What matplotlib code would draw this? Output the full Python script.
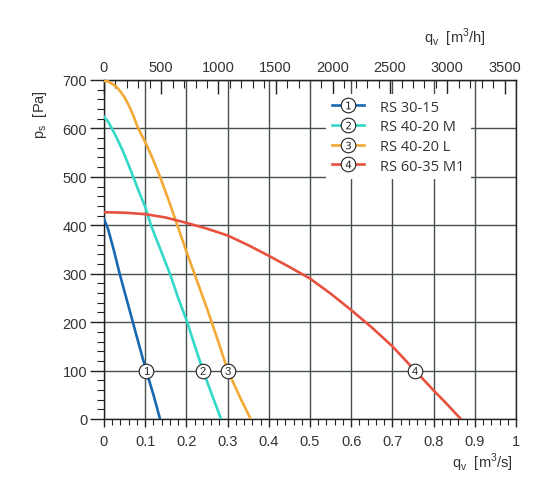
import matplotlib
matplotlib.use("Agg")
import matplotlib.pyplot as plt
from matplotlib.lines import Line2D
from matplotlib.ticker import MultipleLocator, FixedLocator
from matplotlib.legend_handler import HandlerTuple

# fan curves: q_v [m3/s] -> p_s [Pa]
q_rs3015 = [0.0, 0.01, 0.024, 0.038, 0.054, 0.07, 0.086, 0.102, 0.12, 0.136]
p_rs3015 = [413, 392, 348, 300, 250, 200, 150, 101, 50, 0]

q_rs4020m = [0.0, 0.01, 0.019, 0.03, 0.045, 0.058, 0.071, 0.085, 0.1, 0.114, 0.137, 0.16,
             0.18, 0.202, 0.22, 0.24, 0.262, 0.284]
p_rs4020m = [624, 614, 600, 582, 555, 528, 500, 469, 438, 400, 350, 300,
             250, 200, 152, 101, 50, 0]

q_rs4020l = [0.0, 0.01, 0.02, 0.03, 0.04, 0.05, 0.06, 0.07, 0.083, 0.1, 0.118, 0.136,
             0.156, 0.178, 0.2, 0.225, 0.25, 0.275, 0.3, 0.33, 0.356]
p_rs4020l = [698, 697, 692, 686, 676, 664, 648, 629, 600, 572, 538, 500,
             454, 400, 346, 287, 228, 166, 101, 45, 0]

q_rs6035 = [0.0, 0.05, 0.1, 0.15, 0.2, 0.25, 0.3, 0.35, 0.4, 0.45, 0.5, 0.55, 0.6, 0.65,
            0.7, 0.755, 0.8, 0.83, 0.866]
p_rs6035 = [427, 426, 423, 416, 405, 393, 379, 359, 337, 314, 290, 259, 225, 189,
            150, 100, 59, 33, 0]

names = ["RS 30-15", "RS 40-20 M", "RS 40-20 L", "RS 60-35 M1"]
numbers = ["1", "2", "3", "4"]
colors = ["#1668b0", "#33d8c8", "#f3a935", "#e8513f"]
marker_q = [0.102, 0.24, 0.3, 0.755]
marker_p = [100, 100, 100, 100]
top_ticks = [0, 500, 1000, 1500, 2000, 2500, 3000, 3500]

series = [(q_rs3015, p_rs3015), (q_rs4020m, p_rs4020m),
          (q_rs4020l, p_rs4020l), (q_rs6035, p_rs6035)]

plt.rcParams["font.family"] = ["Liberation Sans", "DejaVu Sans"]
txt = "#333333"
gridc = "#465150"

fig = plt.figure(figsize=(5.41, 4.81), dpi=100)
ax = fig.add_axes([104 / 541, 61 / 481, 412 / 541, 339 / 481])

ax.set_xlim(0, 1)
ax.set_ylim(0, 700)
ax.grid(True, which="major", color=gridc, lw=1.0)
ax.set_axisbelow(True)

handles = []
for (q, p), c, n, mq, mp in zip(series, colors, numbers, marker_q, marker_p):
    ax.plot(q, p, color=c, lw=1.9, zorder=3, solid_joinstyle="round")
    ax.plot([mq], [mp], "o", ms=10.5, mfc="white", mec="#222222", mew=0.8, zorder=4)
    ax.text(mq, mp, n, ha="center", va="center", fontsize=8, color="#222222", zorder=5)
    h_line = Line2D([], [], color=c, lw=1.9)
    h_circ = Line2D([], [], marker="o", ls="none", ms=10.5, mfc="white", mec="#222222", mew=0.8)
    h_num = Line2D([], [], marker="$" + n + "$", ls="none", ms=5.5, color="#222222", mew=0)
    handles.append((h_line, h_circ, h_num))

leg = ax.legend(handles, names, handler_map={tuple: HandlerTuple(ndivide=1)},
                loc="upper left", bbox_to_anchor=(0.522, 0.981), frameon=True,
                facecolor="white", edgecolor="none", framealpha=1, fancybox=False,
                handlelength=2.2, handletextpad=1.1, labelspacing=0.32,
                prop={"family": ["Open Sans", "DejaVu Sans"], "size": 10.5})
for t in leg.get_texts():
    t.set_color(txt)
leg.set_zorder(6)

# bottom axis m3/s
ax.xaxis.set_minor_locator(MultipleLocator(0.02))
ax.set_xticks([i / 10 for i in range(11)])
ax.set_xticklabels(["0", "0.1", "0.2", "0.3", "0.4", "0.5", "0.6", "0.7", "0.8", "0.9", "1"])
ax.tick_params(axis="x", which="major", direction="out", length=6, width=1, colors="#222222",
               labelcolor=txt, labelsize=10.5, pad=5)
ax.tick_params(axis="x", which="minor", direction="out", length=4, width=0.8, colors="#222222")

# left axis Pa
ax.yaxis.set_major_locator(MultipleLocator(100))
ax.yaxis.set_minor_locator(MultipleLocator(20))
ax.tick_params(axis="y", which="major", direction="out", length=10, width=1, colors="#222222",
               labelcolor=txt, labelsize=10.5, pad=2)
ax.tick_params(axis="y", which="minor", direction="out", length=5, width=0.8, colors="#222222")

for s in ax.spines.values():
    s.set_color("#222222")
    s.set_linewidth(1.0)

# top axis m3/h
top = ax.secondary_xaxis("top", functions=(lambda x: x * 3600, lambda x: x / 3600))
top.xaxis.set_major_locator(FixedLocator(top_ticks))
top.xaxis.set_minor_locator(MultipleLocator(100))
top.tick_params(axis="x", which="major", direction="in", length=10, width=1, colors="#222222",
                labelcolor=txt, labelsize=10.5, pad=4)
top.tick_params(axis="x", which="minor", direction="in", length=6, width=0.8, colors="#222222")
top.spines["top"].set_color("#222222")

fig.text(455 / 541, 1 - 38 / 481, r"q$_\mathregular{v}$  [m$^\mathregular{3}$/h]",
         ha="center", va="center", fontsize=10.5, color=txt)
fig.text(482 / 541, 1 - 463 / 481, r"q$_\mathregular{v}$  [m$^\mathregular{3}$/s]",
         ha="center", va="center", fontsize=10.5, color=txt)
fig.text(40 / 541, 1 - 115 / 481, r"p$_\mathregular{s}$  [Pa]", rotation=90,
         ha="center", va="center", fontsize=10.5, color=txt)

fig.savefig("out.png", dpi=100)
